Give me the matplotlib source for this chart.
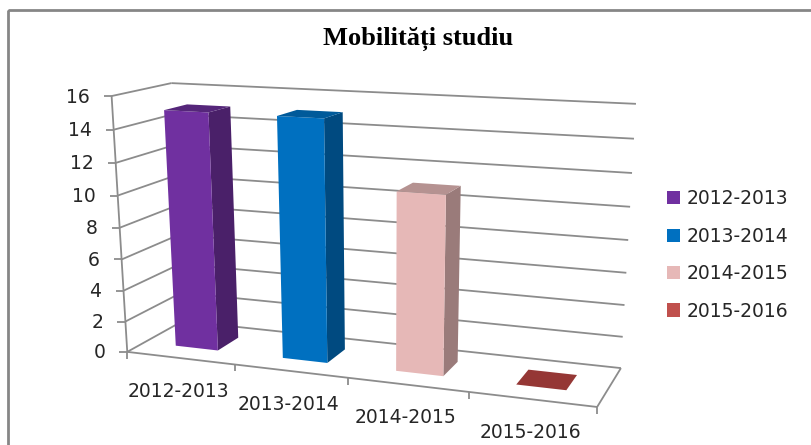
import numpy as np
import matplotlib
matplotlib.use("Agg")
import matplotlib.pyplot as plt
from matplotlib.patches import Polygon, Patch, Rectangle

categories = ["2012-2013", "2013-2014", "2014-2015", "2015-2016"]
values = [15, 15, 11, 0]
y_ticks = [0, 2, 4, 6, 8, 10, 12, 14, 16]

front_colors = ["#7030A0", "#0070C0", "#E6B8B7", "#C0504D"]
side_colors = ["#4A2069", "#004A80", "#9A7B7A", "#803533"]
top_colors = ["#55267A", "#005A9A", "#B59291", "#953735"]
grid_col = "#8C8C8C"
txt_col = "#262626"

# corners of the 3d box (cat, depth, value) -> pixel, used to fit the projection
world = [(0, 0, 0), (0, 0, 16), (0, 1, 0), (0, 1, 16), (4, 1, 16), (4, 1, 0), (4, 0, 0)]
pixel = [(127, 351), (112, 96), (183, 322), (171, 83), (636, 104), (621, 367), (597, 408)]

rows = []
for (a, b, c), (u, v) in zip(world, pixel):
    rows.append([a, b, c, 1, 0, 0, 0, 0, -u*a, -u*b, -u*c, -u])
    rows.append([0, 0, 0, 0, a, b, c, 1, -v*a, -v*b, -v*c, -v])
P = np.linalg.svd(np.array(rows, dtype=float))[2][-1].reshape(3, 4)


def proj(x, d, z):
    p = P @ np.array([x, d, z, 1.0])
    return p[0]/p[2], p[1]/p[2]


def line(ax, a, b, lw=1.3):
    ax.plot([a[0], b[0]], [a[1], b[1]], color=grid_col, lw=lw, solid_capstyle="butt", zorder=1)


fig = plt.figure(figsize=(8.11, 4.45), dpi=100)
ax = fig.add_axes([0, 0, 1, 1])
ax.set_xlim(0, 811)
ax.set_ylim(445, 0)
ax.axis("off")

# chart frame
ax.add_patch(Rectangle((8, 10), 900, 600, fill=False, ec="#868686", lw=2))

ax.text(418, 39, "Mobilități studiu", family="Liberation Serif", weight="bold",
        fontsize=19, ha="center", va="center", color="black")

# walls and floor
for v in y_ticks:
    line(ax, proj(0, 0, v), proj(0, 1, v))
    line(ax, proj(0, 1, v), proj(4, 1, v))
    tick = proj(0, 0, v)
    line(ax, (tick[0]-8, tick[1]), tick)
    ax.text(tick[0]-22, tick[1]+1, str(v), family="DejaVu Sans", fontsize=13.5,
            ha="right", va="center", color=txt_col)

line(ax, proj(0, 0, 0), proj(0, 0, 16))
line(ax, proj(0, 0, 0), proj(4, 0, 0))
line(ax, proj(4, 0, 0), proj(4, 1, 0))
for i in range(5):
    t = proj(i, 0, 0)
    line(ax, t, (t[0], t[1]+7))

# bars
x0, x1 = 0.3, 0.7
d0, d1 = 0.3, 0.7
for i, val in enumerate(values):
    fl0, fr0 = proj(i+x0, d0, 0), proj(i+x1, d0, 0)
    br0, bl0 = proj(i+x1, d1, 0), proj(i+x0, d1, 0)
    fl1, fr1 = proj(i+x0, d0, val), proj(i+x1, d0, val)
    br1, bl1 = proj(i+x1, d1, val), proj(i+x0, d1, val)
    if val > 0:
        ax.add_patch(Polygon([fr0, br0, br1, fr1], fc=side_colors[i], ec="none", zorder=3))
        ax.add_patch(Polygon([fl0, fr0, fr1, fl1], fc=front_colors[i], ec="none", zorder=3))
    ax.add_patch(Polygon([fl1, fr1, br1, bl1], fc=top_colors[i], ec="none", zorder=3))

    c = proj(i+0.5, 0, 0)
    ax.text(c[0]-2, c[1]+33, categories[i], family="DejaVu Sans", fontsize=13.5,
            ha="center", va="center", color=txt_col)

handles = [Patch(fc=c, ec="none") for c in front_colors]
ax.legend(handles, categories, loc="center left", bbox_to_anchor=(659/811, 1-255/445),
          frameon=False, prop={"family": "DejaVu Sans", "size": 13.5}, labelspacing=0.98,
          handlelength=0.7, handleheight=0.7, handletextpad=0.4, labelcolor=txt_col,
          borderpad=0, borderaxespad=0.4)

fig.savefig("out.png", dpi=100)
